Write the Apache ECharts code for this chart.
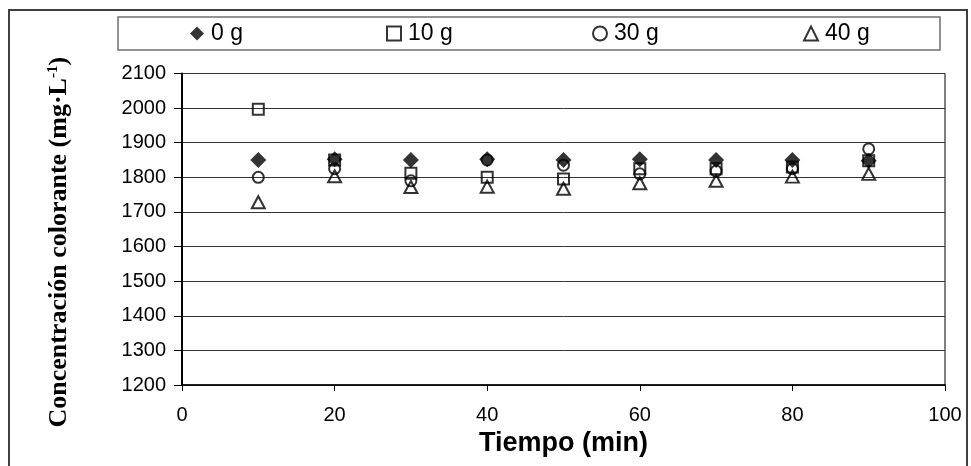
<!DOCTYPE html>
<html>
<head>
<meta charset="utf-8">
<script src="https://cdn.jsdelivr.net/npm/echarts@6/dist/echarts.min.js"></script>
<style>
html,body{margin:0;padding:0;background:#fff;}
#chart{width:971px;height:466px;}
</style>
</head>
<body>
<div id="chart"></div>
<script>
// ---- data ----
var tiempo = [10, 20, 30, 40, 50, 60, 70, 80, 90];
var serie0g  = [1850, 1852, 1850, 1852, 1850, 1852, 1850, 1850, 1848];
var serie10g = [1997, 1850, 1812, 1800, 1795, 1825, 1825, 1830, 1848];
var serie30g = [1800, 1825, 1790, 1850, 1835, 1810, 1818, 1825, 1882];
var serie40g = [1728, 1803, 1772, 1773, 1767, 1783, 1790, 1802, 1810];
var seriesNames = ['0 g', '10 g', '30 g', '40 g'];
var yTicks = [1200, 1300, 1400, 1500, 1600, 1700, 1800, 1900, 2000, 2100];
var xTicks = [0, 20, 40, 60, 80, 100];

function pairs(vals) {
  return tiempo.map(function (t, i) { return [t, vals[i]]; });
}

var chart = echarts.init(document.getElementById('chart'), null, {renderer: 'canvas'});

var hollow = {color: 'rgba(255,255,255,0)', borderColor: '#000', borderWidth: 2};
var sans = 'Liberation Sans, Arial, sans-serif';
var serif = 'Liberation Serif, Times New Roman, serif';
var legendText = {fontFamily: sans, fontSize: 23, color: '#000', padding: [0, 0, 0, 2]};

function legendAt(name, left) {
  return {
    data: [name], left: left, top: 22, padding: 0,
    itemWidth: 14, itemHeight: 14, textStyle: legendText, selectedMode: false
  };
}

var option = {
  backgroundColor: '#fff',
  animation: false,
  graphic: [
    {type: 'rect', shape: {x: 9, y: 10, width: 958, height: 470}, style: {fill: 'none', stroke: '#404040', lineWidth: 2}, silent: true, z: -1},
    {type: 'rect', shape: {x: 118, y: 17, width: 822, height: 33}, style: {fill: 'none', stroke: '#707070', lineWidth: 1.5}, silent: true, z: -1}
  ],
  legend: [
    legendAt(seriesNames[0], 190),
    legendAt(seriesNames[1], 386),
    legendAt(seriesNames[2], 592),
    legendAt(seriesNames[3], 803)
  ],
  grid: {
    left: 182, right: 26, top: 73.5, bottom: 81,
    show: true, borderColor: '#000', borderWidth: 1, backgroundColor: 'rgba(0,0,0,0)'
  },
  xAxis: {
    type: 'value', min: xTicks[0], max: xTicks[xTicks.length - 1], interval: 20,
    axisLine: {show: true, lineStyle: {color: '#000', width: 1.5}},
    axisTick: {show: true, inside: false, length: 6, lineStyle: {color: '#000', width: 1}},
    axisLabel: {margin: 20, color: '#000', fontSize: 20, fontFamily: sans},
    splitLine: {show: false},
    name: 'Tiempo (min)', nameLocation: 'middle', nameGap: 41,
    nameTextStyle: {fontFamily: sans, fontSize: 27, fontWeight: 'bold', color: '#000'}
  },
  yAxis: {
    type: 'value', min: yTicks[0], max: yTicks[yTicks.length - 1], interval: 100,
    axisLine: {show: true, onZero: false, lineStyle: {color: '#000', width: 2}},
    axisTick: {show: true, inside: false, length: 8, lineStyle: {color: '#000', width: 1}},
    axisLabel: {margin: 16, color: '#000', fontSize: 20, fontFamily: sans, formatter: function (v) { return String(v); }},
    splitLine: {show: true, lineStyle: {color: '#333', width: 1}},
    name: 'Concentración colorante (mg·L{sup|-1})', nameLocation: 'middle', nameGap: 110, nameRotate: 90,
    nameTextStyle: {
      fontFamily: serif, fontSize: 26, fontWeight: 'bold', color: '#000',
      padding: [0, 26, 0, 0],
      rich: {sup: {fontFamily: serif, fontSize: 15, fontWeight: 'bold', color: '#000', verticalAlign: 'top', padding: [0, 0, 10, 0]}}
    }
  },
  series: [
    {name: seriesNames[0], type: 'scatter', data: pairs(serie0g), symbol: 'diamond', symbolSize: [16, 16],
     itemStyle: {color: '#000', borderColor: '#000', borderWidth: 0}},
    {name: seriesNames[1], type: 'scatter', data: pairs(serie10g), symbol: 'rect', symbolSize: 11, itemStyle: hollow},
    {name: seriesNames[2], type: 'scatter', data: pairs(serie30g), symbol: 'circle', symbolSize: 11, itemStyle: hollow},
    {name: seriesNames[3], type: 'scatter', data: pairs(serie40g), symbol: 'triangle', symbolSize: [13, 12], itemStyle: hollow}
  ]
};
chart.setOption(option);
</script>
</body>
</html>
